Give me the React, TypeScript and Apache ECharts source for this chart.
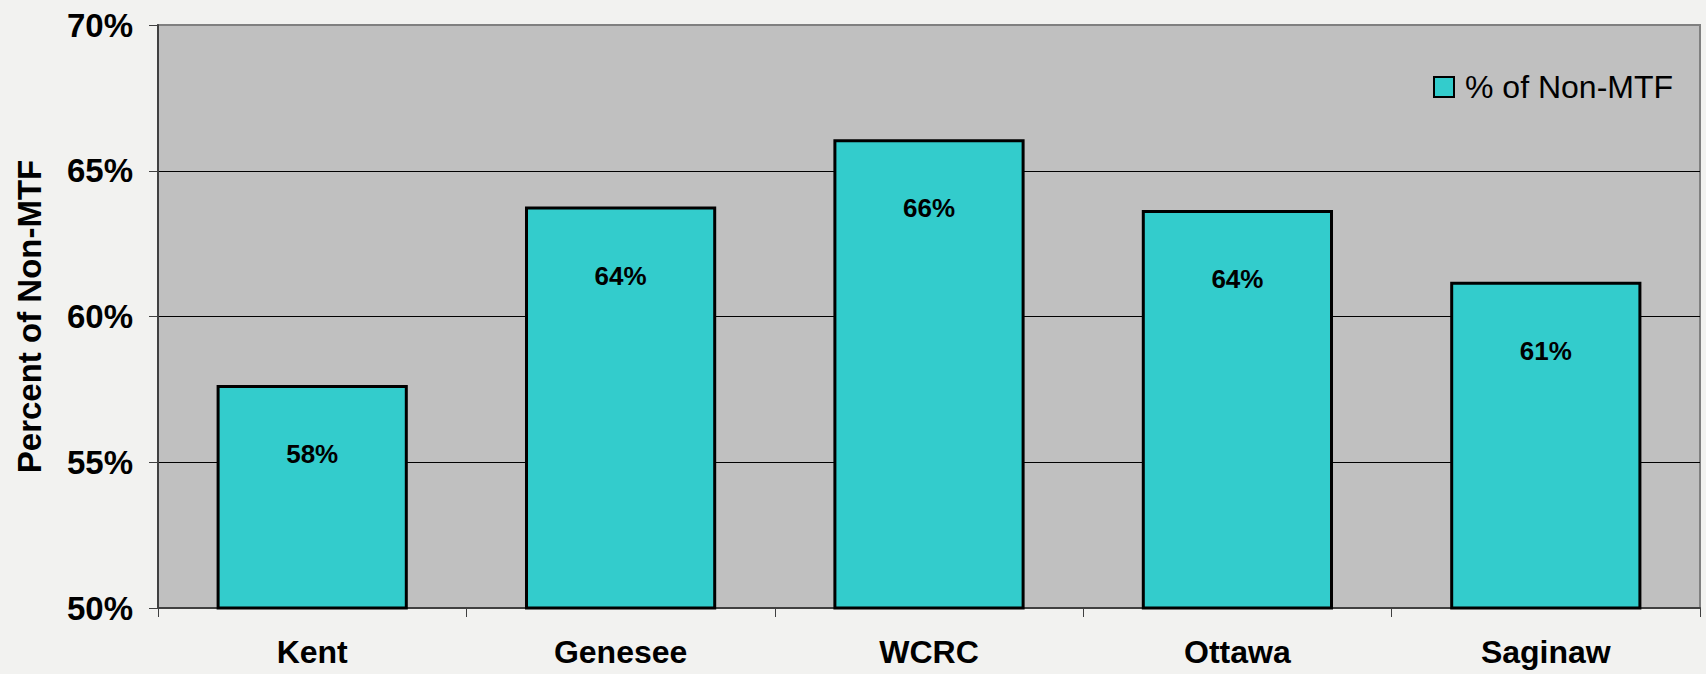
import React, { useEffect, useRef } from "react";
import * as echarts from "echarts";

const categories = ["Kent", "Genesee", "WCRC", "Ottawa", "Saginaw"];
const nonMtfValues = [57.65, 63.77, 66.08, 63.65, 61.19];
const seriesName = "% of Non-MTF";
const yAxisName = "Percent of Non-MTF";
const yMin = 50;
const yMax = 70;
const yStep = 5;

const FONT = "'Liberation Sans', Arial, sans-serif";

export default function App() {
  const ref = useRef<HTMLDivElement>(null);
  useEffect(() => {
    if (!ref.current) return;
    const chart = echarts.init(ref.current, null, { renderer: "svg" });
    chart.setOption({
      animation: false,
      backgroundColor: "#f2f2f0",
      textStyle: { fontFamily: FONT },
      grid: {
        left: 158,
        right: 6,
        top: 25,
        bottom: 66,
        show: true,
        backgroundColor: "#c0c0c0",
        borderColor: "#808080",
        borderWidth: 2,
      },
      legend: {
        show: true,
        left: 1428,
        top: 66,
        icon: "rect",
        itemWidth: 20,
        itemHeight: 20,
        itemStyle: { borderColor: "#000", borderWidth: 2 },
        textStyle: {
          fontFamily: FONT,
          fontSize: 32,
          color: "#000",
          padding: [0, 0, 0, 6],
        },
        data: [seriesName],
      },
      xAxis: {
        type: "category",
        data: categories,
        boundaryGap: true,
        axisLine: { lineStyle: { color: "#404040", width: 2 } },
        axisTick: { show: true, length: 9, lineStyle: { color: "#404040", width: 1 } },
        axisLabel: {
          color: "#000",
          fontFamily: FONT,
          fontWeight: "bold",
          fontSize: 32,
          margin: 28,
        },
      },
      yAxis: {
        type: "value",
        min: yMin,
        max: yMax,
        interval: yStep,
        name: yAxisName,
        nameLocation: "middle",
        nameGap: 112,
        nameTextStyle: {
          color: "#000",
          fontFamily: FONT,
          fontWeight: "bold",
          fontSize: 33,
        },
        axisLine: { show: true, lineStyle: { color: "#404040", width: 2 } },
        axisTick: { show: true, length: 9, lineStyle: { color: "#404040", width: 1 } },
        axisLabel: {
          color: "#000",
          fontFamily: FONT,
          fontWeight: "bold",
          fontSize: 33,
          margin: 25,
          formatter: "{value}%",
        },
        splitLine: {
          show: true,
          lineStyle: {
            color: ["#404040", "#000", "#000", "#000", "#808080"],
            width: 1,
          },
        },
      },
      series: [
        {
          name: seriesName,
          type: "bar",
          data: nonMtfValues,
          barWidth: "62%",
          itemStyle: { color: "#33cccc", borderColor: "#000", borderWidth: 3 },
          label: {
            show: true,
            position: "insideTop",
            distance: 56,
            color: "#000",
            fontFamily: FONT,
            fontWeight: "bold",
            fontSize: 26,
            formatter: (p: any) => Math.round(p.value) + "%",
          },
        },
      ],
    });
    return () => chart.dispose();
  }, []);
  return (
    <div
      ref={ref}
      style={{ position: "fixed", left: 0, top: 0, width: 1706, height: 674 }}
    />
  );
}
